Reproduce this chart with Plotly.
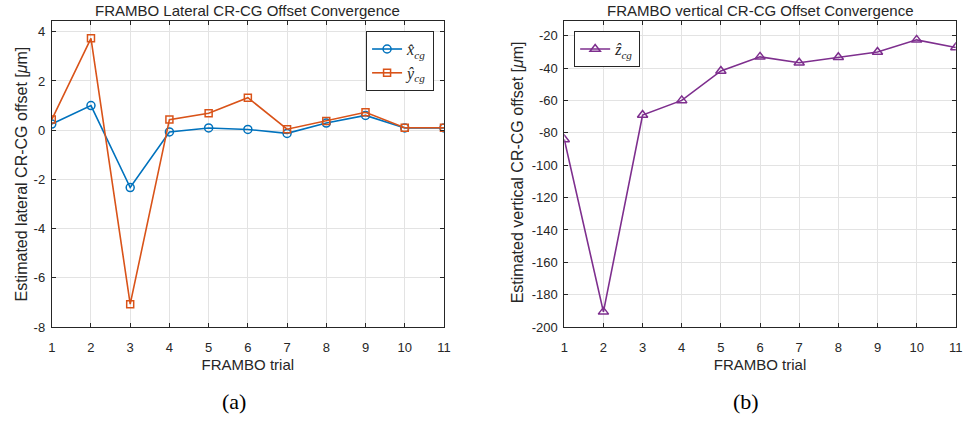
import plotly.graph_objects as go

# FRAMBO trial index
trials = list(range(1, 12))

# Estimated lateral CR-CG offsets [um]
x_cg = [0.25, 1.0, -2.33, -0.07, 0.09, 0.03, -0.13, 0.29, 0.60, 0.09, 0.09]
y_cg = [0.43, 3.73, -7.07, 0.43, 0.69, 1.32, 0.04, 0.37, 0.73, 0.10, 0.10]

# Estimated vertical CR-CG offset [um]
z_cg = [-84.1, -190.6, -69.0, -60.0, -41.8, -33.1, -36.7, -33.3, -30.1, -22.6, -27.3]

x_ticks = list(range(1, 12))
lat_ticks = [-8, -6, -4, -2, 0, 2, 4]
vert_ticks = list(range(-200, -19, 20))

BLUE = "#0072BD"
ORANGE = "#D95319"
PURPLE = "#7E2F8E"
AX = "#262626"
GRID = "#e3e3e3"
SANS = "Liberation Sans, Arial, sans-serif"
SERIF = "Liberation Serif, DejaVu Serif, serif"

fig = go.Figure()

fig.add_trace(go.Scatter(
    x=trials, y=x_cg, mode="lines+markers", xaxis="x", yaxis="y",
    name="<i>x\u0302</i><sub><i>cg</i></sub>", legend="legend",
    line=dict(color=BLUE, width=1.6),
    marker=dict(symbol="circle-open", size=8, color=BLUE, line=dict(width=1.5)),
))
fig.add_trace(go.Scatter(
    x=trials, y=y_cg, mode="lines+markers", xaxis="x", yaxis="y",
    name="<i>y\u0302</i><sub><i>cg</i></sub>", legend="legend",
    line=dict(color=ORANGE, width=1.6),
    marker=dict(symbol="square-open", size=7, color=ORANGE, line=dict(width=1.5)),
))
fig.add_trace(go.Scatter(
    x=trials, y=z_cg, mode="lines+markers", xaxis="x2", yaxis="y2",
    name="<i>z\u0302</i><sub><i>cg</i></sub>", legend="legend2",
    line=dict(color=PURPLE, width=1.6),
    marker=dict(symbol="triangle-up-open", size=9, color=PURPLE, line=dict(width=1.5)),
))

W, H = 971, 430


def px_x(p):
    return p / W


def px_y(p):
    return 1 - p / H


common_x = dict(
    range=[1, 11], tickvals=x_ticks, ticktext=[str(v) for v in x_ticks],
    showgrid=True, gridcolor=GRID, gridwidth=1,
    showline=True, linecolor=AX, linewidth=1, mirror="ticks", ticks="inside",
    ticklen=4, tickcolor=AX, zeroline=False, ticklabelstandoff=8,
    tickfont=dict(family=SANS, size=13, color=AX),
    title=dict(text="FRAMBO trial", font=dict(family=SANS, size=15, color=AX), standoff=5),
)
common_y = dict(
    showgrid=True, gridcolor=GRID, gridwidth=1,
    showline=True, linecolor=AX, linewidth=1, mirror="ticks", ticks="inside",
    ticklen=4, tickcolor=AX, zeroline=False, ticklabelstandoff=3,
    tickfont=dict(family=SANS, size=13, color=AX),
)

fig.update_layout(
    width=W, height=H,
    margin=dict(l=0, r=0, t=0, b=0),
    paper_bgcolor="white", plot_bgcolor="white",
    xaxis=dict(common_x, domain=[px_x(48.3), px_x(445)], anchor="y"),
    yaxis=dict(common_y, domain=[px_y(333.3), px_y(21.8)], anchor="x",
               range=[-8, 4.42], tickvals=lat_ticks,
               ticktext=[str(v) for v in lat_ticks]),
    xaxis2=dict(common_x, domain=[px_x(566.7), px_x(962.7)], anchor="y2"),
    yaxis2=dict(common_y, domain=[px_y(333.3), px_y(21.8)], anchor="x2",
                range=[-200, -11.2], tickvals=vert_ticks,
                ticktext=[str(v) for v in vert_ticks]),
    legend=dict(
        x=px_x(435), y=px_y(31.7), xanchor="right", yanchor="top",
        bgcolor="white", bordercolor=AX, borderwidth=1,
        font=dict(family=SERIF, size=16, color=AX), itemwidth=30,
        tracegroupgap=0,
    ),
    legend2=dict(
        x=px_x(576.7), y=px_y(31.7), xanchor="left", yanchor="top",
        bgcolor="white", bordercolor=AX, borderwidth=1,
        font=dict(family=SERIF, size=16, color=AX), itemwidth=30,
    ),
    showlegend=True,
)


def label(text, x, y, size, family=SANS, color=AX, angle=0):
    return dict(text=text, x=px_x(x), y=px_y(y), xref="paper", yref="paper",
                xanchor="center", yanchor="middle", showarrow=False,
                textangle=angle, font=dict(family=family, size=size, color=color))


annotations = [
    # panel titles
    label("FRAMBO Lateral CR-CG Offset Convergence", 246.5, 10.5, 15),
    label("FRAMBO vertical CR-CG Offset Convergence", 764.7, 10.5, 15),
    # y-axis titles
    label("Estimated lateral CR-CG offset [<i>\u03bc</i>m]", 17.5, 177.5, 16, angle=-90),
    label("Estimated vertical CR-CG offset [<i>\u03bc</i>m]", 519, 175.5, 16, angle=-90),
    # sub-figure captions
    label("(a)", 233, 409, 22, family=SERIF, color="black"),
    label("(b)", 751, 409, 22, family=SERIF, color="black"),
]
fig.update_layout(annotations=annotations)

fig.write_html("out.html")
